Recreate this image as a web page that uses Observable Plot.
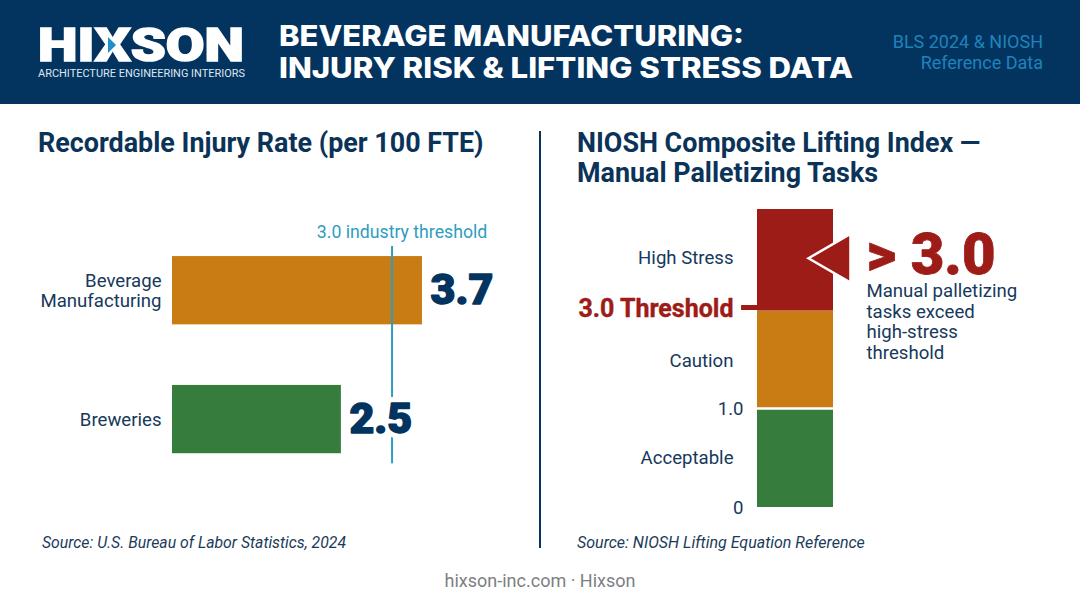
<!DOCTYPE html>
<html><head><meta charset="utf-8">
<script src="https://cdn.jsdelivr.net/npm/d3@7"></script>
<script src="https://cdn.jsdelivr.net/npm/@observablehq/plot@0.6"></script>
<style>
html,body{margin:0;padding:0;background:#fff;width:1080px;height:603px;overflow:hidden;font-family:Roboto,sans-serif}
#hdr{position:absolute;left:0;top:0}
h2{position:absolute;margin:0;font:700 26.9px/30px Roboto,sans-serif;color:#0b3358;white-space:nowrap}
.src{position:absolute;font:italic 400 15.8px Roboto,sans-serif;color:#1b3b5a;white-space:nowrap}
#div{position:absolute;left:539px;top:131px;width:2px;height:417px;background:#0b3358}
#foot{position:absolute;left:0;width:1080px;top:570px;text-align:center;font:400 18px Roboto,sans-serif;color:#7d8083}
#left,#right{position:absolute}
#left{left:0;top:190px}
#right{left:540px;top:200px}
</style></head><body>
<svg id="hdr" width="1080" height="104" xmlns="http://www.w3.org/2000/svg">
<rect width="1080" height="104" fill="#03335f"/>
<text x="38" y="61" font-family="Roboto" font-weight="900" font-size="47" fill="#fff" stroke="#fff" stroke-width="1.6" textLength="206" lengthAdjust="spacingAndGlyphs">HIXSON</text>
<polygon points="108,37 116,45 108,53" fill="#1f8fc8"/>
<text x="38" y="76.5" font-family="Roboto" font-size="11" fill="#dfe7ef" textLength="207" lengthAdjust="spacingAndGlyphs">ARCHITECTURE ENGINEERING INTERIORS</text>
<text x="279" y="46" font-family="Inter" font-weight="800" font-size="28" fill="#fff" textLength="465" lengthAdjust="spacingAndGlyphs">BEVERAGE MANUFACTURING:</text>
<text x="279" y="78" font-family="Inter" font-weight="800" font-size="28" fill="#fff" textLength="574" lengthAdjust="spacingAndGlyphs">INJURY RISK &amp; LIFTING STRESS DATA</text>
<text x="1043" y="48" text-anchor="end" font-family="Roboto" font-size="18" fill="#1f83bb">BLS 2024 &amp; NIOSH</text>
<text x="1043" y="69" text-anchor="end" font-family="Roboto" font-size="18" fill="#1f83bb">Reference Data</text>
</svg>
<h2 style="left:38px;top:128px">Recordable Injury Rate (per 100 FTE)</h2>
<h2 style="left:577px;top:128px">NIOSH Composite Lifting Index —<br>Manual Palletizing Tasks</h2>
<div id="div"></div>
<div id="left"></div>
<div id="right"></div>
<div class="src" style="left:42px;top:533px">Source: U.S. Bureau of Labor Statistics, 2024</div>
<div class="src" style="left:577px;top:533px;font-size:16px">Source: NIOSH Lifting Equation Reference</div>
<div id="foot">hixson-inc.com · Hixson</div>
<script>
// Left panel
const categories = ["Beverage\nManufacturing", "Breweries"];
const rates = [3.7, 2.5];
const rateLabels = ["3.7", "2.5"];
const barColors = ["#c97c14", "#367c3c"];
const thresholdLinePosition = [3.25]; // where the reference draws its line on the bar scale
const thresholdLabel = ["3.0 industry threshold"];

// Right panel
const zoneNames = ["Acceptable", "Caution", "High Stress"];
const zoneStart = [0, 1, 3];
const zoneEnd = [1, 3, 5];
const zoneLabelAt = [0.5, 1.97, 4.04];
const zoneColors = ["#367c3c", "#c97c14", "#9e1c18"];
const indexTicks = [0, 1];
const indexTickLabels = ["0", "1.0"];
const thresholdValue = [3];
const calloutLines = ["Manual palletizing\ntasks exceed\nhigh-stress\nthreshold"];
// The reference's index column is not to scale: each zone gets about the same height.
const zoneBreaks = [0, 1, 3, 5];
const zoneBreakHeights = [0, 99, 196.5, 298];

const navy = "#03335f", ink = "#16395c", red = "#9e1c18", teal = "#2e9dbf";
const rows = categories.map((c, i) => ({c, v: rates[i], t: rateLabels[i], col: barColors[i]}));
const zones = zoneNames.map((n, i) => ({n, a: zoneStart[i], b: zoneEnd[i], at: zoneLabelAt[i], col: zoneColors[i]}));
const font = "Roboto, sans-serif";
const indexToHeight = d3.scaleLinear().domain(zoneBreaks).range(zoneBreakHeights);

document.getElementById("left").append(Plot.plot({
  width: 540, height: 299, marginTop: 40.3, marginBottom: 10, marginLeft: 172, marginRight: 64,
  style: {fontFamily: font, background: "transparent", overflow: "visible"},
  x: {domain: [0, 4.5], axis: null},
  y: {domain: categories, paddingInner: 0.47, paddingOuter: 0.2, label: null, round: false},
  marks: [
    Plot.barX(rows, {x: "v", y: "c", fill: "col"}),
    Plot.ruleX(thresholdLinePosition, {stroke: teal, strokeWidth: 2, insetTop: 15.7, insetBottom: 15.7}),
    Plot.text(rows, {x: "v", y: "c", text: "t", textAnchor: "start", dx: 8, dy: 0, fontSize: 43, fontWeight: 900,
      fill: "#fff", stroke: "#fff", strokeWidth: 12}),
    Plot.text(rows, {x: "v", y: "c", text: "t", textAnchor: "start", dx: 8, dy: 0, fontSize: 43, fontWeight: 900,
      fill: navy, stroke: navy, strokeWidth: 1.4}),
    Plot.text(thresholdLinePosition, {x: d => d, frameAnchor: "top", text: () => thresholdLabel[0], dx: 10, dy: 2,
      lineAnchor: "middle", fontSize: 17.7, fill: "#2e9dbf"}),
    Plot.axisY({tickSize: 0, tickPadding: 11, fontSize: 18.6, color: ink, label: null, lineHeight: 1.08})
  ]
}));

document.getElementById("right").append(Plot.plot({
  width: 540, height: 330, marginTop: 9, marginBottom: 23, marginLeft: 217, marginRight: 247,
  style: {fontFamily: font, background: "transparent", overflow: "visible"},
  x: {domain: [0, 1], axis: null},
  y: {transform: indexToHeight, domain: [0, 298], range: [307, 9], label: null, axis: null},
  marks: [
    Plot.rectY(zones, {x1: 0, x2: 1, y1: "a", y2: "b", fill: "col"}),
    Plot.ruleY([1], {x1: 0, x2: 1, stroke: "#fff", strokeWidth: 2.5}),
    Plot.text(zones, {x: 0, y: "at", text: "n", textAnchor: "end", dx: -24, fontSize: 18.6, fill: ink}),
    Plot.text(indexTicks, {x: 0, y: d => d, text: d => indexTickLabels[indexTicks.indexOf(d)], textAnchor: "end", dx: -14, dy: 1,
      fontSize: 18.6, fill: ink}),
    Plot.ruleY(thresholdValue, {x1: -0.21, x2: 0, stroke: red, strokeWidth: 5, dy: -3.5}),
    Plot.text(thresholdValue, {x: 0, y: d => d, text: d => d.toFixed(1) + " Threshold", textAnchor: "end", dx: -24, dy: -2,
      fontSize: 25, fontWeight: 700, fill: red, stroke: red, strokeWidth: 0.4}),
    Plot.dot([4], {x: () => 1, y: d => d, symbol: "triangle", r: 18, rotate: -90, fill: red, stroke: "#fff", strokeWidth: 2.5, dx: 3, dy: -2}),
    Plot.text(thresholdValue, {x: 1, y: 4, text: d => "> " + d.toFixed(1), textAnchor: "start", dx: 33, dy: -5,
      fontSize: 58, fontWeight: 900, fill: red, stroke: red, strokeWidth: 0.8}),
    Plot.text(calloutLines, {x: 1, y: 3, text: d => d, textAnchor: "start", lineAnchor: "top", dx: 33, dy: -29,
      fontSize: 18.6, lineHeight: 1.12, fill: ink})
  ]
}));
</script>
</body></html>
